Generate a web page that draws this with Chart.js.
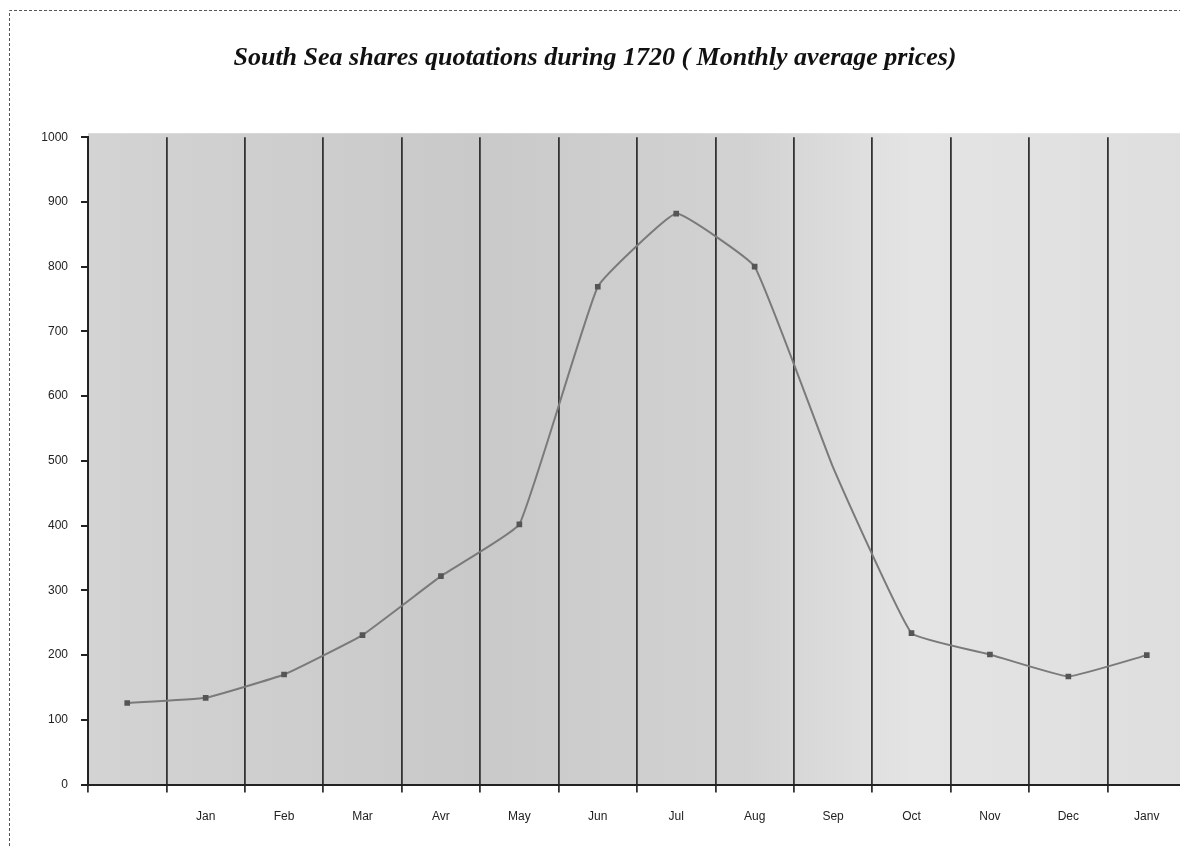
<!DOCTYPE html>
<html>
  <head>
    <title>South Sea shares 1720</title>
    <script src="https://cdn.jsdelivr.net/npm/chart.js"></script>
    <style>
      body { margin: 0; background: #fff; overflow: hidden; }
    </style>
  </head>
  <body>
    <canvas id="seaChart" width="1190" height="846"></canvas>

    <script>
        // months (first slot is the end of 1719, no label)
        const months = ['', 'Jan', 'Feb', 'Mar', 'Avr', 'May', 'Jun', 'Jul', 'Aug', 'Sep', 'Oct', 'Nov', 'Dec', 'Janv'];
        // monthly average price
        const prices = [126, 134, 170, 231, 322, 402, 769, 882, 800, 490, 234, 201, 167, 200];
        const yTicks = [0, 100, 200, 300, 400, 500, 600, 700, 800, 900, 1000];

        const plotBg = {
          id: 'plotBg',
          beforeDraw(chart) {
            const { ctx, chartArea: a } = chart;
            const g = ctx.createLinearGradient(a.left, 0, a.right, 0);
            g.addColorStop(0, '#d3d3d3');
            g.addColorStop(0.35, '#c9c9c9');
            g.addColorStop(0.6, '#d2d2d2');
            g.addColorStop(0.75, '#e4e4e4');
            g.addColorStop(1, '#dedede');
            ctx.save();
            ctx.fillStyle = g;
            ctx.fillRect(a.left, a.top - 4, a.right - a.left + 10, a.bottom - a.top + 4);
            ctx.restore();
          },
          afterDraw(chart) {
            // dashed frame of the scanned page
            const ctx = chart.ctx;
            ctx.save();
            ctx.strokeStyle = '#555';
            ctx.lineWidth = 1;
            ctx.setLineDash([3, 2]);
            ctx.beginPath();
            ctx.moveTo(9.5, 846);
            ctx.lineTo(9.5, 10.5);
            ctx.lineTo(1190, 10.5);
            ctx.stroke();
            ctx.restore();
          }
        };

        const chart = new Chart(document.getElementById('seaChart').getContext('2d'), {
          type: 'line',
          data: {
            labels: months,
            datasets: [{
              label: 'South Sea shares',
              data: prices,
              borderColor: '#7a7a7a',
              borderWidth: 2,
              tension: 0.1,
              pointStyle: 'rect',
              pointRadius: ctx => months[ctx.dataIndex] === 'Sep' ? 0 : 4,
              pointBackgroundColor: '#555',
              pointBorderColor: '#555',
              pointBorderWidth: 0,
              fill: false
            }]
          },
          options: {
            responsive: false,
            animation: false,
            layout: { padding: { left: 0, right: 0, top: 0, bottom: 5 } },
            plugins: {
              legend: { display: false },
              tooltip: { enabled: false },
              title: {
                display: true,
                text: 'South Sea shares quotations during 1720 ( Monthly average prices)',
                color: '#111',
                font: { family: '"Liberation Serif", "Times New Roman", serif', size: 26, weight: 'bold', style: 'italic' },
                padding: { top: 43, bottom: 63 }
              }
            },
            scales: {
              x: {
                offset: true,
                grid: {
                  offset: true,
                  color: '#333',
                  lineWidth: 1.8,
                  tickLength: 8,
                  tickColor: '#333'
                },
                border: { color: '#222', width: 2 },
                ticks: {
                  color: '#222',
                  padding: 17,
                  font: { family: '"Liberation Sans", Arial, sans-serif', size: 12 },
                  maxRotation: 0,
                  autoSkip: false
                }
              },
              y: {
                min: 0,
                max: 1000,
                afterBuildTicks: scale => { scale.ticks = yTicks.map(v => ({ value: v })); },
                afterFit: scale => { scale.width = 88; },
                grid: {
                  drawOnChartArea: false,
                  tickLength: 7,
                  tickColor: '#222',
                  lineWidth: 2
                },
                border: { color: '#222', width: 2 },
                ticks: {
                  color: '#222',
                  padding: 13,
                  font: { family: '"Liberation Sans", Arial, sans-serif', size: 12 },
                  callback: v => String(v)
                }
              }
            }
          },
          plugins: [plotBg]
        });
    </script>
  </body>
</html>
